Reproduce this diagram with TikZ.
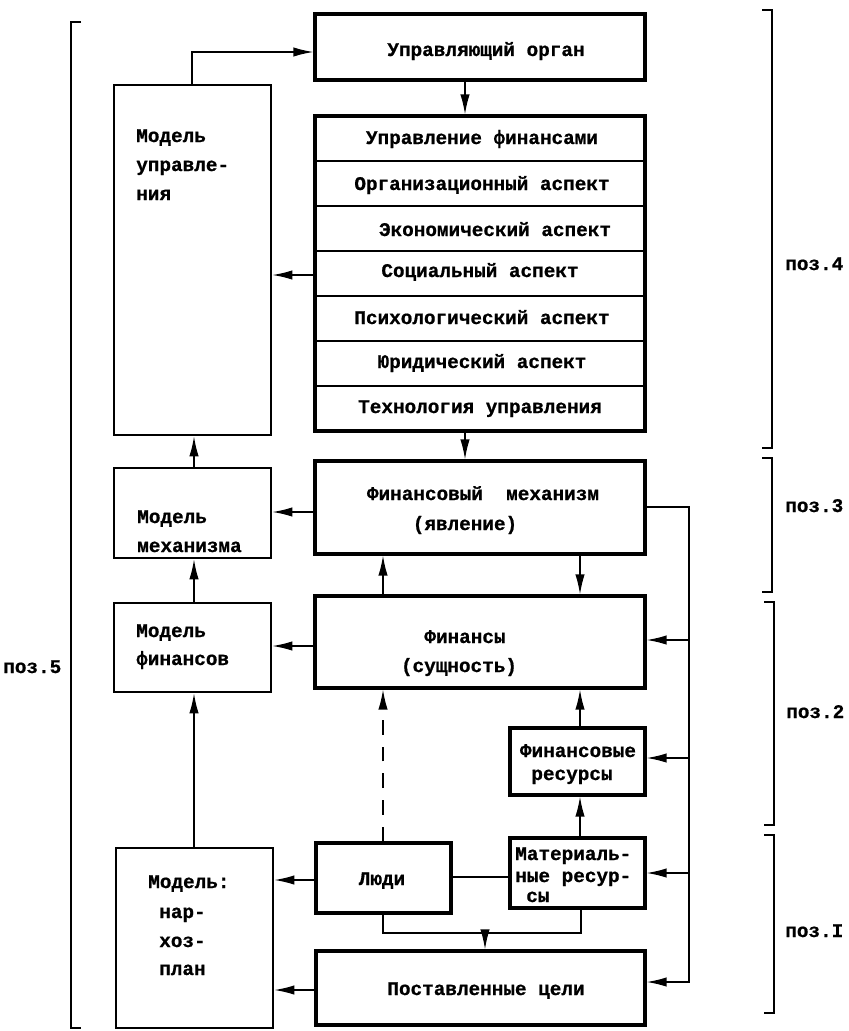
\documentclass[tikz,border=0pt]{standalone}
\usepackage{fontspec}
\newfontfamily\tw{Liberation Mono}[BoldFeatures={FakeBold=0.8}]
\usetikzlibrary{arrows.meta,fit}
\begin{document}
\begin{tikzpicture}[x=0.75pt,y=-0.75pt,
  mainbox/.style={draw, line width=2.3pt, inner sep=0pt, rectangle},
  modbox/.style={draw, line width=1.9pt, inner sep=0pt, rectangle},
  conn/.style={line width=1.1pt},
  arr/.style={conn, -{Latex[length=15pt,width=7pt]}},
  divider/.style={line width=1.3pt},
  brk/.style={line width=1.1pt},
  lbl/.style={font=\tw\bfseries\fontsize{14.5}{18}\selectfont, inner sep=0pt, anchor=base},
  lbll/.style={lbl, anchor=base west},
]
\useasboundingbox (0,0) rectangle (849,1031);
\fill[white] (0,0) rectangle (849,1031);

% boxes
\node[mainbox, fit={(315,14) (645,80)}] (ctl) {};
\node[mainbox, fit={(315,116) (645,431)}] (asp) {};
\node[mainbox, fit={(315,461) (645,554)}] (mech) {};
\node[mainbox, fit={(315,596) (645,688)}] (fin) {};
\node[mainbox, fit={(510,728) (645,795)}] (fr) {};
\node[mainbox, fit={(510,838) (645,908)}] (mat) {};
\node[mainbox, fit={(316,843) (451,913)}] (ludi) {};
\node[mainbox, fit={(316,951) (645,1025)}] (post) {};
\node[modbox, fit={(114,85) (271,435)}] (mu) {};
\node[modbox, fit={(114,468) (271,558)}] (mm) {};
\node[modbox, fit={(114,603) (271,692)}] (mf) {};
\node[modbox, fit={(116,848) (273,1028)}] (nar) {};

% aspect dividers
\foreach \yy in {161,206,251,296,341,386}
  \draw[divider] (315,\yy) -- (645,\yy);

% texts
\node[lbl] (tctl) at (486,56) {Управляющий орган};
\node[lbl] (ta1) at (482,144) {Управление финансами};
\node[lbl] (ta2) at (482,190) {Организационный аспект};
\node[lbl] (ta3) at (495,236) {Экономический аспект};
\node[lbl] (ta4) at (480,277) {Социальный аспект};
\node[lbl] (ta5) at (482,324) {Психологический аспект};
\node[lbl] (ta6) at (482,368) {Юридический аспект};
\node[lbl] (ta7) at (480,413) {Технология управления};
\node[lbl] (tme1) at (483,500) {Финансовый\ \ механизм};
\node[lbl] (tme2) at (465,530) {(явление)};
\node[lbl] (tfi1) at (465,643) {Финансы};
\node[lbl] (tfi2) at (459,672) {(сущность)};
\node[lbl] (tfr1) at (578,757) {Финансовые};
\node[lbl] (tfr2) at (572,780) {ресурсы};
\node[lbll] (tma1) at (515,860) {Материаль-};
\node[lbll] (tma2) at (515,882) {ные ресур-};
\node[lbll] (tma3) at (526,902) {сы};
\node[lbl] (tlu) at (382,885) {Люди};
\node[lbl] (tpo) at (486,995) {Поставленные цели};
\node[lbll] (tmu1) at (136,142) {Модель};
\node[lbll] (tmu2) at (136,171) {управле-};
\node[lbll] (tmu3) at (136,200) {ния};
\node[lbll] (tmm1) at (137,523) {Модель};
\node[lbll] (tmm2) at (137,552) {механизма};
\node[lbll] (tmf1) at (136,637) {Модель};
\node[lbll] (tmf2) at (136,665) {финансов};
\node[lbll] (tna1) at (148,888) {Модель:};
\node[lbll] (tna2) at (159,918) {нар-};
\node[lbll] (tna3) at (159,947) {хоз-};
\node[lbll] (tna4) at (159,975) {план};

% position labels
\node[lbll] (p4) at (785,270) {поз.4};
\node[lbll] (p3) at (785,512) {поз.3};
\node[lbll] (p2) at (786,718) {поз.2};
\node[lbll] (p1) at (785,937) {поз.I};
\node[lbll] (p5) at (3,673) {поз.5};

% brackets
\draw[brk] (762,10) -- (772,10) -- (772,448) -- (762,448);
\draw[brk] (762,458) -- (772,458) -- (772,592) -- (762,592);
\draw[brk] (764,602) -- (774,602) -- (774,825) -- (764,825);
\draw[brk] (764,835) -- (774,835) -- (774,1013) -- (764,1013);
\draw[brk] (81,22) -- (71,22) -- (71,1028) -- (81,1028);

% helper coordinates
\coordinate (a1) at (192,52);
\coordinate (cx) at (465,0);
\coordinate (lc) at (194,0);
\coordinate (m1) at (383,0);
\coordinate (m2) at (580,0);
\coordinate (ya) at (0,275);
\coordinate (yb) at (0,512);
\coordinate (yc) at (0,646);
\coordinate (yd) at (0,880);
\coordinate (ye) at (0,877);
\coordinate (yf) at (0,990);
\coordinate (r1) at (689,507);
\coordinate (r2) at (689,982);
\coordinate (b1) at (689,640);
\coordinate (b2) at (689,758);
\coordinate (b3) at (689,873);
\coordinate (j1) at (383,933);
\coordinate (j2) at (581,933);
\coordinate (j3) at (485,933);

% connectors
\draw[arr] (mu.north -| a1) |- (ctl.west |- a1);
\draw[arr] (ctl.south -| cx) -- (asp.north -| cx);
\draw[arr] (asp.south -| cx) -- (mech.north -| cx);
\draw[arr] (asp.west |- ya) -- (mu.east |- ya);
\draw[arr] (mech.west |- yb) -- (mm.east |- yb);
\draw[arr] (fin.west |- yc) -- (mf.east |- yc);
\draw[arr] (mm.north -| lc) -- (mu.south -| lc);
\draw[arr] (mf.north -| lc) -- (mm.south -| lc);
\draw[arr] (nar.north -| lc) -- (mf.south -| lc);
\draw[arr] (fin.north -| m1) -- (mech.south -| m1);
\draw[arr] (mech.south -| m2) -- (fin.north -| m2);
\draw[arr] (fr.north -| m2) -- (fin.south -| m2);
\draw[arr] (mat.north -| m2) -- (fr.south -| m2);
\draw[arr, dash pattern=on 11pt off 9pt] (ludi.north -| m1) -- (fin.south -| m1);
\draw[arr] (mech.east |- r1) -- (r1) -- (r2) -- (post.east |- r2);
\draw[arr] (b1) -- (fin.east |- b1);
\draw[arr] (b2) -- (fr.east |- b2);
\draw[arr] (b3) -- (mat.east |- b3);
\draw[conn] (ludi.east |- ye) -- (mat.west |- ye);
\draw[arr] (ludi.west |- yd) -- (nar.east |- yd);
\draw[arr] (post.west |- yf) -- (nar.east |- yf);
\draw[conn] (ludi.south -| j1) -- (j1) -- (j2) -- (mat.south -| j2);
\draw[arr] (j3) -- (post.north -| j3);
\end{tikzpicture}
\end{document}
